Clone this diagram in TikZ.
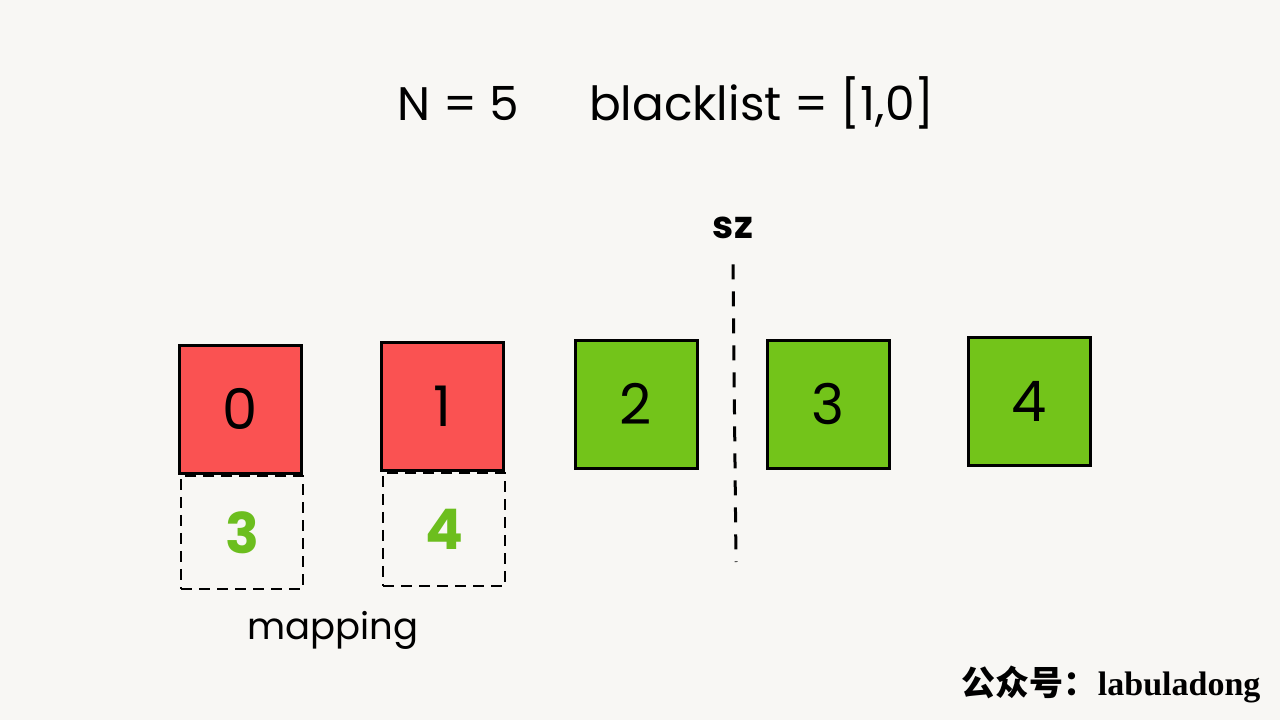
\documentclass[tikz,border=0pt]{standalone}
\usepackage{fontspec}
\setmainfont{Poppins}
\newfontfamily\cjkfont{Noto Sans CJK SC}
\newfontfamily\seriffont{Liberation Serif}
\definecolor{paper}{RGB}{248,247,244}
\definecolor{badred}{RGB}{250,82,82}
\definecolor{goodgreen}{RGB}{115,196,26}
\definecolor{mapgreen}{RGB}{108,190,30}
\tikzset{
  cell/.style={draw=black, line width=3pt, minimum width=122pt, minimum height=128pt,
    inner sep=0pt, font=\fontsize{56}{60}\selectfont},
  blackcell/.style={cell, fill=badred},
  whitecell/.style={cell, fill=goodgreen},
  mapcell/.style={draw=black, line width=2.8pt, dash pattern=on 11pt off 7pt,
    minimum width=122pt, minimum height=113pt, inner sep=0pt,
    text=mapgreen, font=\fontsize{56}{60}\selectfont\bfseries}
}
\begin{document}
\begin{tikzpicture}[x=1pt, y=-1pt]
    \fill[paper] (0,0) rectangle (1280,720);
    \useasboundingbox (0,0) rectangle (1280,720);

    % Título
    \node[font=\fontsize{47}{50}\selectfont] (title) at (666,103) {N = 5\hspace{70pt}blacklist = [1,0]};

    % Casillas del arreglo
    \node[blackcell] (c0) at (240,409) {0};
    \node[blackcell] (c1) at (442,406) {1};
    \node[whitecell] (c2) at (636,404) {2};
    \node[whitecell] (c3) at (828,404) {3};
    \node[whitecell] (c4) at (1029,401) {4};

    % Casillas de mapping bajo las de la lista negra
    \node[mapcell, anchor=north] (m0) at ([xshift=2pt]c0.south) {3};
    \node[mapcell, anchor=north] (m1) at ([xshift=2pt]c1.south) {4};
    \node[font=\fontsize{37}{40}\selectfont] (maplabel) at (333,630) {mapping};

    % Frontera sz
    \node[font=\fontsize{38}{40}\selectfont\bfseries] (sz) at (733,228) {sz};
    \coordinate (szbot) at (736,562);
    \draw[line width=3pt, dash pattern=on 15pt off 12pt] ([yshift=-22pt]sz.south) -- (szbot);

    % Marca de agua
    \node[anchor=east, font=\fontsize{34}{36}\selectfont\bfseries] (brand) at (1264,684)
        {{\cjkfont 公众号：}{\seriffont labuladong}};
\end{tikzpicture}
\end{document}
